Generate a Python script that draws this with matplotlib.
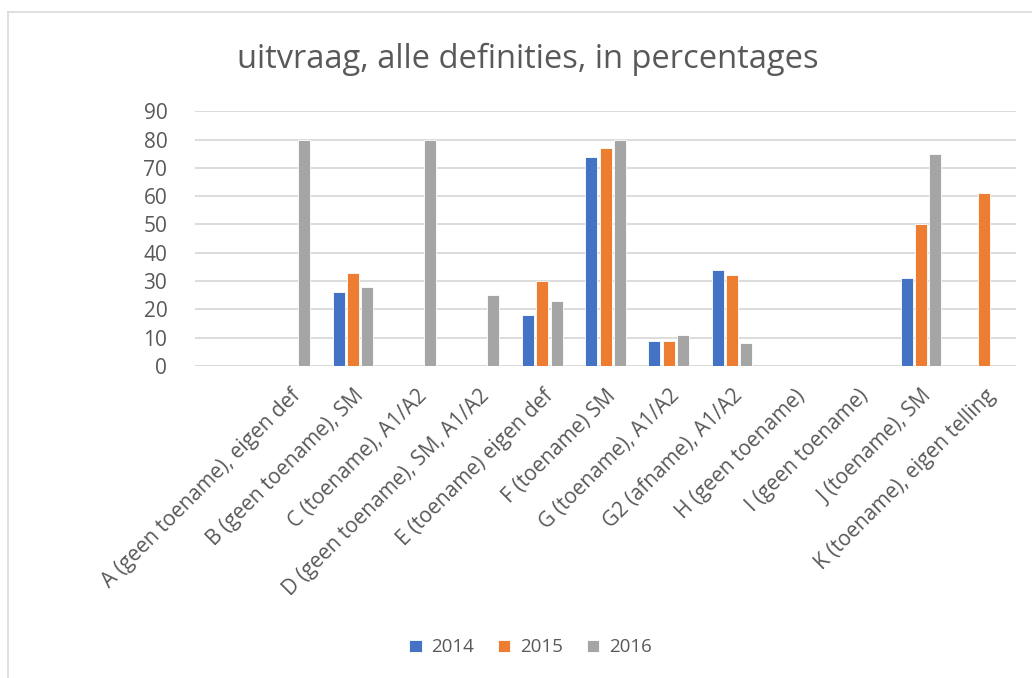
import matplotlib.pyplot as plt
import numpy as np

categories = [
    "A (geen toename), eigen def",
    "B (geen toename), SM",
    "C (toename), A1/A2",
    "D (geen toename), SM, A1/A2",
    "E (toename) eigen def",
    "F (toename) SM",
    "G (toename), A1/A2",
    "G2 (afname), A1/A2",
    "H (geen toename)",
    "I (geen toename)",
    "J (toename), SM",
    "K (toename), eigen telling",
]
years = ["2014", "2015", "2016"]
v2014 = [0, 26, 0, 0, 18, 74, 9, 34, 0, 0, 31, 0]
v2015 = [0, 33, 0, 0, 30, 77, 9, 32, 0, 0, 50, 61]
v2016 = [80, 28, 80, 25, 23, 80, 11, 8, 0, 0, 75, 0]
colors = ["#4472C4", "#ED7D31", "#A5A5A5"]

plt.rcParams['font.family'] = ['Open Sans', 'DejaVu Sans']
txt = "#595959"

fig = plt.figure(figsize=(10.32, 6.78), dpi=100)
ax = fig.add_axes([0.189, 0.460, 0.7955, 0.376])

x = np.arange(len(categories))
w = 0.19
step = 0.225
for i, (vals, c, lab) in enumerate(zip([v2014, v2015, v2016], colors, years)):
    ax.bar(x + (i - 1) * step, vals, w, color=c, label=lab,
           edgecolor="white", linewidth=0.6, zorder=3)

ax.set_xlim(-1.5, 11.5)
ax.set_ylim(0, 90)
ax.set_yticks(range(0, 91, 10))
ax.grid(axis="y", color="#D9D9D9", linewidth=1.3, zorder=0)
for s in ax.spines.values():
    s.set_visible(False)
ax.axhline(0, color="#D9D9D9", linewidth=1.3, zorder=1)
ax.tick_params(axis="both", length=0, labelsize=15, colors=txt)
ax.tick_params(axis="y", pad=20)
ax.set_xticks(x)
ax.set_xticklabels(categories, rotation=45, ha="right", rotation_mode="anchor")
ax.tick_params(axis="x", pad=14)

fig.text(0.511, 0.913, "uitvraag, alle definities, in percentages",
         ha="center", va="center", fontsize=23.5, color=txt)

leg = fig.legend(loc="center", bbox_to_anchor=(0.514, 0.045), ncol=3,
                 frameon=False, fontsize=13.5, handlelength=0.65,
                 handleheight=0.65, handletextpad=0.5, columnspacing=1.3)
for t in leg.get_texts():
    t.set_color(txt)

# chart area border
fig.add_artist(plt.Line2D([8 / 1032, 8 / 1032], [0, 1 - 12 / 678],
                          color="#D9D9D9", linewidth=1.2))
fig.add_artist(plt.Line2D([8 / 1032, 1], [1 - 12 / 678, 1 - 12 / 678],
                          color="#D9D9D9", linewidth=1.2))

fig.savefig("out.png", dpi=100)
